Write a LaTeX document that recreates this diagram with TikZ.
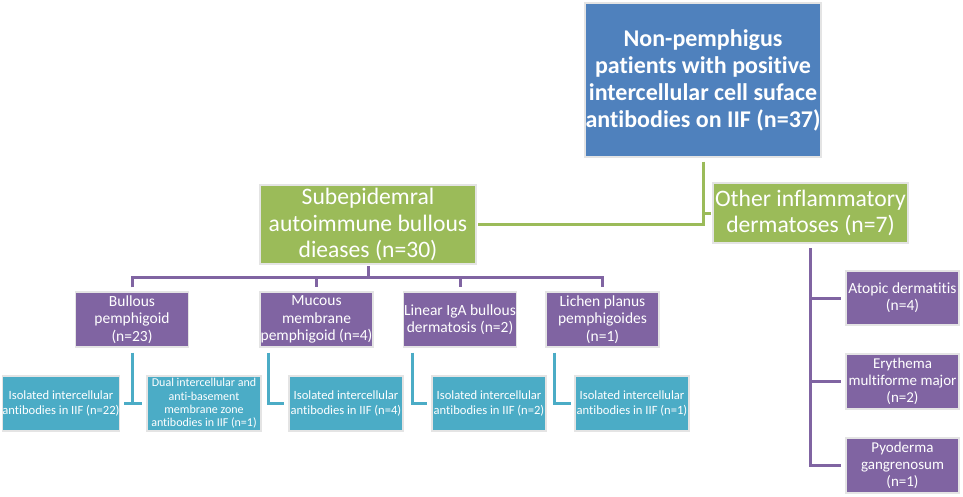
\documentclass[tikz,border=0pt]{standalone}
\usepackage{fontspec}
\setmainfont[Ligatures=NoCommon]{Carlito}
\definecolor{cblue}{HTML}{4F81BD}
\definecolor{cgreen}{HTML}{9BBB59}
\definecolor{cpurple}{HTML}{8064A2}
\definecolor{ccyan}{HTML}{4BACC6}
\definecolor{cedge}{HTML}{E4E4E4}
\begin{document}
\begin{tikzpicture}[x=1pt,y=-1pt,
  base/.style={rectangle, draw=cedge, line width=1.2pt, text=white, align=center, inner sep=0pt},
  rootbox/.style={base, fill=cblue, minimum width=236pt, minimum height=154pt, font=\bfseries\fontsize{24}{27}\selectfont},
  greenbox/.style={base, fill=cgreen, line width=2pt, font=\fontsize{23.6}{26.5}\selectfont},
  purplebox/.style={base, fill=cpurple, minimum width=113pt, minimum height=55pt, font=\fontsize{15.5}{17.3}\selectfont},
  cyanbox/.style={base, fill=ccyan, minimum width=114pt, minimum height=55pt, font=\fontsize{12.6}{15}\selectfont},
  gline/.style={draw=cgreen, line width=3pt},
  pline/.style={draw=cpurple, line width=3pt},
  cline/.style={draw=ccyan, line width=3pt}]
\useasboundingbox (0,0) rectangle (963,497);
\node[rootbox] (root) at (703,80) {Non-pemphigus\\patients with positive\\intercellular cell suface\\antibodies on IIF (n=37)};
\node[greenbox, minimum width=216pt, minimum height=79pt] (sub) at (368,224.5) {Subepidemral\\autoimmune bullous\\dieases (n=30)};
\node[greenbox, minimum width=195pt, minimum height=60pt] (oth) at (810.5,213) {Other inflammatory\\dermatoses (n=7)};
\node[purplebox] (bp) at (132,319.5) {Bullous\\pemphigoid\\(n=23)};
\node[purplebox] (mm) at (316.5,319.5) {Mucous\\membrane\\pemphigoid (n=4)};
\node[purplebox] (la) at (460,319.5) {Linear IgA bullous\\dermatosis (n=2)};
\node[purplebox] (lp) at (602.5,319.5) {Lichen planus\\pemphigoides\\(n=1)};
\node[cyanbox] (c1) at (61,403.5) {Isolated intercellular\\antibodies in IIF (n=22)};
\node[cyanbox, font=\fontsize{12}{13.4}\selectfont] (c2) at (204,403.5) {Dual intercellular and\\anti-basement\\membrane zone\\antibodies in IIF (n=1)};
\node[cyanbox] (c3) at (346,403.5) {Isolated intercellular\\antibodies in IIF (n=4)};
\node[cyanbox] (c4) at (489,403.5) {Isolated intercellular\\antibodies in IIF (n=2)};
\node[cyanbox] (c5) at (632,403.5) {Isolated intercellular\\antibodies in IIF (n=1)};
\node[purplebox, font=\fontsize{15.5}{16.7}\selectfont, minimum height=54pt] (ad) at (902.5,298) {Atopic dermatitis\\(n=4)};
\node[purplebox, font=\fontsize{15}{17}\selectfont] (em) at (902.5,381.5) {Erythema\\multiforme major\\(n=2)};
\node[purplebox, font=\fontsize{15}{17}\selectfont] (pg) at (902.5,465.5) {Pyoderma\\gangrenosum\\(n=1)};
% green connectors
\draw[gline] ([yshift=-4pt]root.south) -- (root.south |- sub.east) -- ([xshift=1pt]sub.east);
\draw[gline] (root.south |- oth.west) -- ([xshift=-1pt]oth.west);
% purple connectors to first level
\coordinate (bar) at (368,277);
\draw[pline] ([yshift=-1pt]sub.south) -- (bar);
\draw[pline] ([yshift=4pt]bp.north) -- (bp.north |- bar) -- (lp.north |- bar) -- ([yshift=4pt]lp.north);
\draw[pline] (mm.north |- bar) -- ([yshift=4pt]mm.north);
\draw[pline] (la.north |- bar) -- ([yshift=4pt]la.north);
% cyan connectors
\draw[cline] ([yshift=-5pt]bp.south) -- (bp.south |- c1.east);
\draw[cline] ([xshift=4pt]c1.east) -- ([xshift=-4pt]c2.west);
\draw[cline] ([xshift=9pt,yshift=-5pt]mm.south west) |- ([xshift=-4pt]c3.west);
\draw[cline] ([xshift=10pt,yshift=-5pt]la.south west) |- ([xshift=-4pt]c4.west);
\draw[cline] ([xshift=9pt,yshift=-5pt]lp.south west) |- ([xshift=-3pt]c5.west);
% right purple connectors
\draw[pline] ([yshift=-4pt]oth.south) -- (oth.south |- pg.west) -- ([xshift=-4pt]pg.west);
\draw[pline] (oth.south |- ad.west) -- ([xshift=-4pt]ad.west);
\draw[pline] (oth.south |- em.west) -- ([xshift=-4pt]em.west);
\end{tikzpicture}
\end{document}
